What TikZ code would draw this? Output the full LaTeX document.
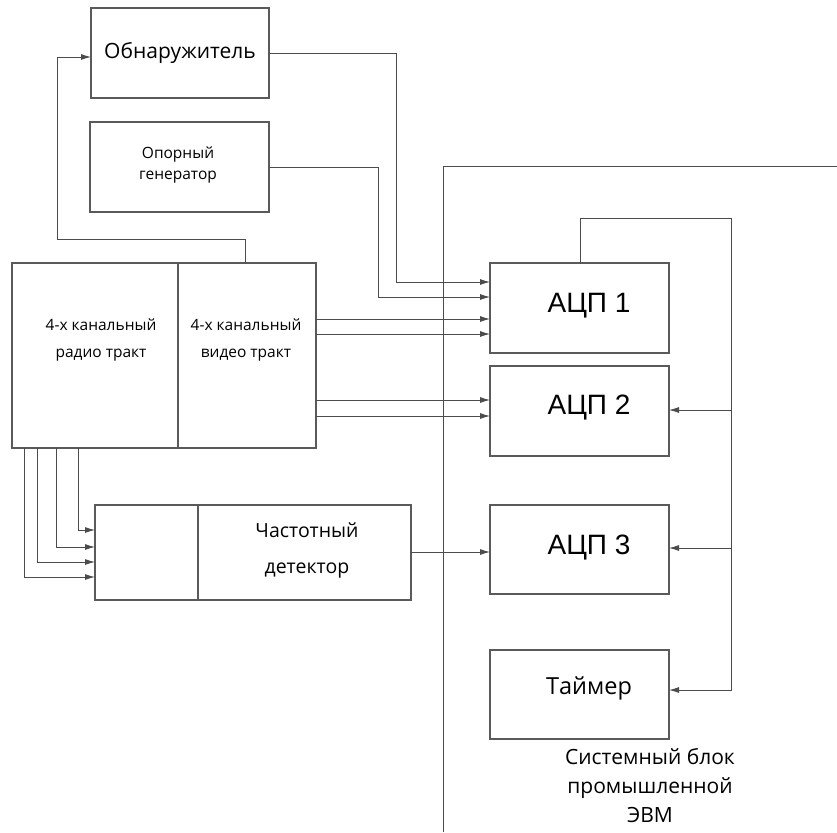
\documentclass[tikz,border=0pt]{standalone}
\usepackage{fontspec}
\setmainfont{Open Sans}
\newfontfamily\arialf{Liberation Sans}
\usetikzlibrary{arrows.meta}
\definecolor{boxgray}{HTML}{5A5A5A}
\definecolor{linegray}{HTML}{4C4C4C}
\begin{document}
\begin{tikzpicture}[x=1pt,y=-1pt,
  box/.style={draw=boxgray,line width=1.1pt,inner sep=0pt,outer sep=0pt,anchor=north west},
  txt/.style={align=center,inner sep=0pt,text=black},
  wire/.style={draw=linegray,line width=0.9pt},
  arr/.style={wire,-{Latex[length=10pt,width=6pt]}},
]
\useasboundingbox (0,0) rectangle (837,832);
\fill[white] (0,0) rectangle (837,832);

% boxes
\node[box,minimum width=178pt,minimum height=90pt] (obn) at (91,8) {};
\node[box,minimum width=179pt,minimum height=90pt] (opor) at (90,122) {};
\node[box,minimum width=166pt,minimum height=185pt] (radio) at (12,263) {};
\node[box,minimum width=138pt,minimum height=185pt] (video) at (178,263) {};
\node[box,minimum width=103pt,minimum height=95pt] (detL) at (95,505) {};
\node[box,minimum width=213pt,minimum height=95pt] (detR) at (198,505) {};
\node[box,minimum width=179pt,minimum height=90pt] (acp1) at (490,263) {};
\node[box,minimum width=179pt,minimum height=90pt] (acp2) at (490,366) {};
\node[box,minimum width=179pt,minimum height=89pt] (acp3) at (490,505) {};
\node[box,minimum width=179pt,minimum height=89pt] (timer) at (490,650) {};

% texts
\node[txt,font=\fontsize{21}{25}\selectfont] (tobn) at (180,53) {Обнаружитель};
\node[txt,font=\fontsize{15.5}{21}\selectfont] (topor) at (178,165) {Опорный\\генератор};
\node[txt,font=\fontsize{15.5}{28}\selectfont] (tradio) at (101,340) {4-х канальный\\радио тракт};
\node[txt,font=\fontsize{15.5}{28}\selectfont] (tvideo) at (246,340) {4-х канальный\\видео тракт};
\node[txt,font=\fontsize{19.5}{36}\selectfont] (tdet) at (307,550) {Частотный\\детектор};
\node[txt,font=\arialf\fontsize{28}{32}\selectfont] (tacp1) at (589,306) {АЦП 1};
\node[txt,font=\arialf\fontsize{28}{32}\selectfont] (tacp2) at (589,408) {АЦП 2};
\node[txt,font=\arialf\fontsize{28}{32}\selectfont] (tacp3) at (589,548) {АЦП 3};
\node[txt,font=\fontsize{23.5}{30}\selectfont] (ttimer) at (589,688) {Таймер};
\node[txt,font=\fontsize{21}{29}\selectfont] (tsys) at (650,786) {Системный блок\\промышленной\\ЭВМ};

% system block boundary
\coordinate (sysb) at (443,832);
\coordinate (syse) at (837,166);
\draw[wire] (sysb) -- (443,166) -- (syse);

% feedback to detector
\draw[arr] (video.north west -| 245,0) -- (245,239) -- (57,239) -- (57,57) -- (obn.west |- 0,57);

% to ACP1
\draw[arr] (obn.east) -- (396,53) -- (396,282) -- (acp1.west |- 0,282);
\draw[arr] (opor.east |- 0,167) -- (378,167) -- (378,297) -- (acp1.west |- 0,297);
\draw[arr] (video.east |- 0,319) -- (acp1.west |- 0,319);
\draw[arr] (video.east |- 0,334) -- (acp1.west |- 0,334);
% to ACP2
\draw[arr] (video.east |- 0,400) -- (acp2.west |- 0,400);
\draw[arr] (video.east |- 0,416) -- (acp2.west |- 0,416);

% radio to detector
\draw[arr] (radio.south west -| 78,0) -- (78,530) -- (detL.west |- 0,530);
\draw[arr] (radio.south west -| 56,0) -- (56,547) -- (detL.west |- 0,547);
\draw[arr] (radio.south west -| 37,0) -- (37,562) -- (detL.west |- 0,562);
\draw[arr] (radio.south west -| 24,0) -- (24,577) -- (detL.west |- 0,577);

% detector to ACP3
\draw[arr] (detR.east |- 0,552) -- (acp3.west |- 0,552);

% bus
\draw[arr] (acp1.north -| 580,0) -- (580,218) -- (731,218) -- (731,690) -- (timer.east |- 0,690);
\draw[arr] (731,410) -- (acp2.east |- 0,410);
\draw[arr] (731,548) -- (acp3.east |- 0,548);
\end{tikzpicture}
\end{document}
